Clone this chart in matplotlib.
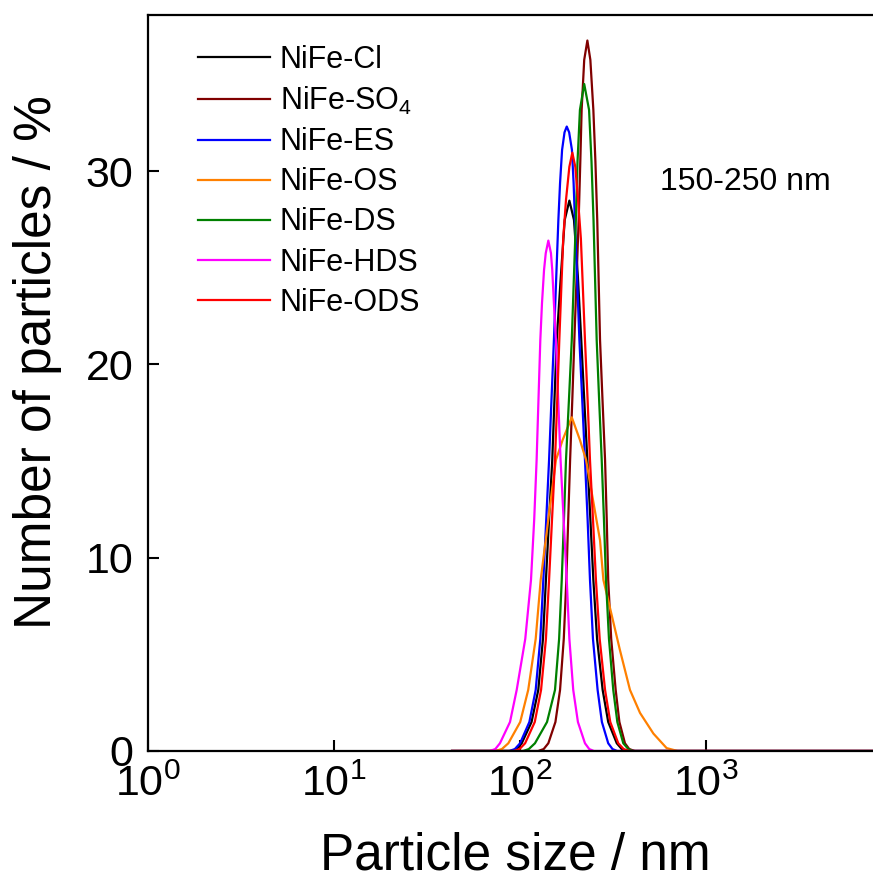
import matplotlib
matplotlib.use("Agg")
import matplotlib.pyplot as plt

plt.rcParams['font.family'] = ['Liberation Sans', 'DejaVu Sans']
plt.rcParams['mathtext.fontset'] = 'custom'
plt.rcParams['mathtext.rm'] = 'Liberation Sans'
plt.rcParams['mathtext.it'] = 'Liberation Sans:italic'
plt.rcParams['mathtext.bf'] = 'Liberation Sans:bold'

# ---- data (particle size in nm, number of particles %) ----
cl_x = [43.4, 90.2, 96.6, 102.8, 116.1, 126.2, 133.7, 138.7, 144.2, 150.0, 154.2, 158.5,
        166.7, 175.0, 185.4, 196.3, 206.1, 214.8, 222.8, 231.7, 240.4, 249.5, 261.2,
        279.9, 299.9, 333.4, 354.8, 380.2, 8913]
cl_y = [0, 0, 0.1, 0.4, 1.5, 3.16, 5.8, 8.85, 12.0, 15.05, 18.2, 21.26,
        24.5, 27.47, 28.47, 27.47, 24.5, 21.26, 18.2, 15.05, 12.0, 8.85, 5.8,
        3.16, 1.5, 0.4, 0.1, 0, 0]

so4_x = [43.4, 125.9, 134.9, 142.9, 156.0, 165.2, 173.0, 178.6, 182.8, 187.1, 192.3, 197.2,
         208.0, 212.3, 215.8, 222.8, 231.7, 240.4, 249.5, 255.9, 261.8, 271.0, 279.3,
         288.4, 294.4, 299.9, 311.2, 328.9, 344.4, 369.0, 389.0, 416.9, 8913]
so4_y = [0, 0, 0.1, 0.4, 1.5, 3.16, 5.8, 8.85, 12.0, 15.05, 18.2, 21.26,
         27.47, 30.5, 33.16, 35.75, 36.75, 35.75, 33.16, 30.5, 27.47, 21.26, 18.2,
         15.05, 12.0, 8.85, 5.8, 3.16, 1.5, 0.4, 0.1, 0, 0]

es_x = [43.4, 88.1, 94.4, 100.7, 113.0, 122.2, 129.4, 134.3, 139.3, 144.2, 148.6, 153.1,
        161.8, 165.2, 169.4, 174.6, 179.5, 184.9, 191.4, 195.4, 198.6, 209.9, 217.3,
        224.9, 232.3, 239.3, 248.3, 263.0, 277.3, 299.9, 316.2, 335.0, 8913]
es_y = [0, 0, 0.1, 0.4, 1.5, 3.16, 5.8, 8.85, 12.0, 15.05, 18.2, 21.26,
        27.47, 29.37, 31.09, 32.0, 32.3, 32.0, 31.09, 29.37, 27.47, 21.26, 18.2,
        15.05, 12.0, 8.85, 5.8, 3.16, 1.5, 0.4, 0.1, 0, 0]

os_x = [43.4, 74.1, 80.4, 87.1, 100.9, 111.4, 122.2, 130.0, 142.9, 157.0, 170.6, 191.0,
        211.3, 228.0, 258.8, 271.0, 282.5, 346.7, 392.6, 444.6, 524.8, 618.0, 707.9, 8913]
os_y = [0, 0, 0.1, 0.4, 1.5, 3.16, 5.8, 8.85, 12.0, 15.05, 16.09, 17.26,
        16.09, 15.05, 12.0, 10.9, 8.85, 5.22, 3.16, 1.97, 0.9, 0.15, 0, 0]

ds_x = [43.4, 104.7, 112.2, 121.1, 140.6, 155.2, 163.3, 168.7, 173.4, 177.8, 184.5, 191.0,
        200.9, 205.1, 211.3, 222.8, 236.6, 243.8, 250.0, 260.0, 267.9, 276.7, 284.4,
        291.7, 302.7, 319.2, 335.7, 361.4, 384.6, 407.4, 8913]
ds_y = [0, 0, 0.1, 0.4, 1.5, 3.16, 5.8, 8.85, 12.0, 15.05, 18.2, 21.26,
        27.47, 30.5, 33.16, 34.5, 33.16, 30.5, 27.47, 21.26, 18.2, 15.05, 12.0,
        8.85, 5.8, 3.16, 1.5, 0.4, 0.1, 0, 0]

hds_x = [43.4, 69.2, 74.1, 78.5, 88.9, 96.6, 107.4, 115.3, 120.0, 123.6, 126.5, 129.4,
         132.1, 135.5, 138.4, 142.9, 147.6, 150.0, 153.1, 157.0, 161.4, 166.3, 172.6,
         179.5, 185.4, 194.5, 206.1, 224.9, 237.1, 251.2, 8913]
hds_y = [0, 0, 0.1, 0.4, 1.5, 3.16, 5.8, 8.85, 12.0, 15.05, 18.2, 21.26,
         23.16, 24.88, 25.75, 26.4, 25.75, 24.88, 23.16, 21.26, 18.2, 15.05, 12.0,
         8.85, 5.8, 3.16, 1.5, 0.4, 0.1, 0, 0]

ods_x = [43.4, 93.3, 100.0, 107.2, 120.8, 130.6, 138.7, 144.2, 149.6, 155.2, 159.6, 163.7,
         171.8, 177.8, 185.4, 192.3, 199.5, 206.5, 213.8, 224.9, 232.3, 239.3, 248.3,
         257.6, 269.8, 288.4, 307.6, 339.6, 363.1, 389.0, 8913]
ods_y = [0, 0, 0.1, 0.4, 1.5, 3.16, 5.8, 8.85, 12.0, 15.05, 18.2, 21.26,
         26.5, 28.5, 30.22, 30.95, 30.22, 28.5, 26.5, 21.26, 18.2, 15.05, 12.0,
         8.85, 5.8, 3.16, 1.5, 0.4, 0.1, 0, 0]

labels = ['NiFe-Cl', 'NiFe-SO$_4$', 'NiFe-ES', 'NiFe-OS', 'NiFe-DS', 'NiFe-HDS', 'NiFe-ODS']
colors = ['#000000', '#800000', '#0000FF', '#FF8000', '#008000', '#FF00FF', '#FF0000']
xticks = [1, 10, 100, 1000]
yticks = [0, 10, 20, 30]
annotation = '150-250 nm'

series = [(cl_x, cl_y), (so4_x, so4_y), (es_x, es_y), (os_x, os_y),
          (ds_x, ds_y), (hds_x, hds_y), (ods_x, ods_y)]

W, H = 873, 882
fig = plt.figure(figsize=(W / 100, H / 100), dpi=100)
left, right, bottom, top = 147.5, 873, 751, 15
ax = fig.add_axes([left / W, 1 - bottom / H, (right - left) / W, (bottom - top) / H])

for (xs, ys), lab, c in zip(series, labels, colors):
    ax.plot(xs, ys, color=c, lw=1.6, label=lab, solid_joinstyle='round')

ax.set_xscale('log')
ax.set_xlim(1, 10 ** ((right - left) / 186.0))
ax.set_ylim(0, 38.07)
ax.set_xticks(xticks)
ax.set_yticks(yticks)
ax.minorticks_off()
ax.tick_params(axis='both', which='major', direction='in', length=8, width=1.5,
               labelsize=31)
ax.tick_params(axis='x', pad=10)
ax.tick_params(axis='y', pad=10)
ax.spines['right'].set_visible(False)
for s in ['left', 'bottom', 'top']:
    ax.spines[s].set_linewidth(1.6)

leg = ax.legend(loc='upper left', bbox_to_anchor=(198 / W, 1 - 45 / H),
                bbox_transform=fig.transFigure, frameon=False, fontsize=22,
                handlelength=2.35, handletextpad=0.33, labelspacing=0.33,
                borderaxespad=0, borderpad=0)
for l in leg.get_lines():
    l.set_linewidth(1.6)

ax.text(745 / W, 1 - 182 / H, annotation, transform=fig.transFigure,
        ha='center', va='center', fontsize=23)

fig.text(515.5 / W, 1 - 856 / H, 'Particle size / nm', ha='center', va='center', fontsize=37)
fig.text(38 / W, 1 - 362.5 / H, 'Number of particles / %', ha='center', va='center',
         rotation=90, fontsize=37)

fig.savefig('out.png', dpi=100)
